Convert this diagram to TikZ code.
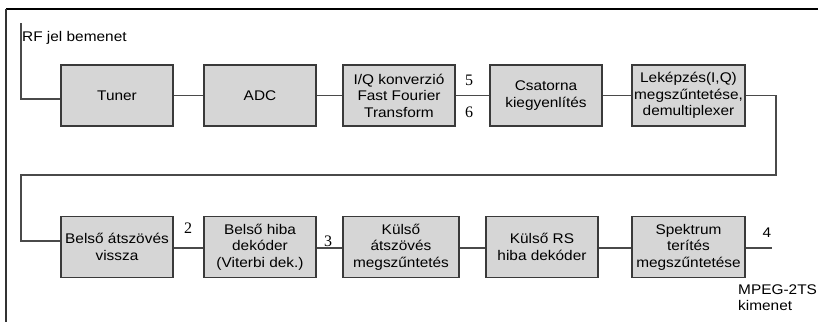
\documentclass[tikz,border=0pt]{standalone}
\usepackage{fontspec}
\setmainfont[FakeStretch=1.1]{Liberation Sans}
\newfontfamily\digfont{Liberation Serif}
\definecolor{boxfill}{HTML}{D6D6D6}
\definecolor{boxline}{HTML}{3A3A3A}
\definecolor{wire}{HTML}{4A4A4A}
\begin{document}
\begin{tikzpicture}[x=1pt,y=-1pt,
  blk/.style={draw=boxline, fill=boxfill, line width=1.8pt, minimum height=61pt,
    minimum width=112pt, inner sep=1pt, align=center,
    font=\fontsize{14}{16.5}\selectfont},
  wirestyle/.style={draw=wire, line width=1.6pt},
  lbl/.style={inner sep=0pt, font=\fontsize{14}{16}\selectfont},
  numlbl/.style={inner sep=0pt, font=\fontsize{16}{18}\selectfont\digfont}]
\useasboundingbox (0,0) rectangle (818,322);
% frame
\draw[line width=2pt, black] (818,9) -- (6,9);
\draw[line width=1.4pt, black!80] (6,9) -- (6,322);
% row 1
\node[blk] (tuner) at (117,95.5) {Tuner};
\node[blk] (adc) at (260,95.5) {ADC};
\node[blk] (iq) at (399,95.5) {I/Q konverzió\\Fast Fourier\\Transform};
\node[blk] (csat) at (546,95.5) {Csatorna\\kiegyenlítés};
\node[blk, minimum width=113pt] (lekep) at (688.5,95.5) {Leképzés(I,Q)\\megszűntetése,\\demultiplexer};
% row 2
\node[blk] (belso) at (117,247) {Belső átszövés\\vissza};
\node[blk] (hiba) at (260,247) {Belső hiba\\dekóder\\(Viterbi dek.)};
\node[blk, minimum width=116pt] (kulso) at (401,247) {Külső\\átszövés\\megszűntetés};
\node[blk] (rs) at (542,247) {Külső RS\\hiba dekóder};
\node[blk, minimum width=113pt] (spek) at (688.5,247) {Spektrum\\terítés\\megszűntetése};
% input
\coordinate (rftop) at (21,23);
\coordinate (rfbend) at (21,99);
\draw[wirestyle] (rftop) -- (rfbend) -- (rfbend -| tuner.west);
\node[lbl, anchor=west] (rflbl) at (22,38) {RF jel bemenet};
% row 1 connectors
\draw[wirestyle] (tuner) -- (adc);
\draw[wirestyle] (adc) -- (iq);
\draw[wirestyle] (iq) -- (csat);
\draw[wirestyle] (csat) -- (lekep);
% loop
\coordinate (l1) at (776,95.5);
\coordinate (l2) at (776,175);
\coordinate (l3) at (21,175);
\coordinate (l4) at (21,241);
\draw[wirestyle] (lekep.east) -- (l1) -- (l2) -- (l3) -- (l4) -- (l4 -| belso.west);
% row 2 connectors
\draw[wirestyle] (belso.east |- 0,248) -- (hiba.west |- 0,248);
\draw[wirestyle] (hiba.east |- 0,248) -- (kulso.west |- 0,248);
\draw[wirestyle] (kulso.east |- 0,248) -- (rs.west |- 0,248);
\draw[wirestyle] (rs.east |- 0,248) -- (spek.west |- 0,248);
\coordinate (outend) at (772,248);
\draw[wirestyle] (spek.east |- outend) -- (outend);
% numbers
\node[numlbl] (n5) at (469,80) {5};
\node[numlbl] (n6) at (469,112) {6};
\node[numlbl] (n2) at (188,228) {2};
\node[numlbl] (n3) at (328,241) {3};
\node[lbl] (n4) at (767,233) {4};
% output label
\node[lbl, anchor=north west, align=left] (outlbl) at (738,285) {MPEG-2TS\\kimenet};
\end{tikzpicture}
\end{document}
